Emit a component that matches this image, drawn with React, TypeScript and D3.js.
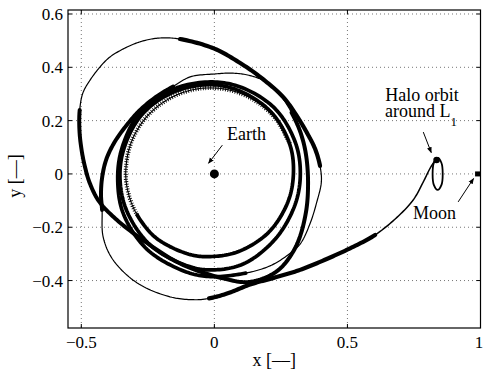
import React from 'react';
import * as d3 from 'd3';

type P = [number, number];

// ---------- data ----------
const xTicks = [-0.5, 0, 0.5, 1];
const yTicks = [-0.4, -0.2, 0, 0.2, 0.4, 0.6];
const xTickLabels = ['\u22120.5', '0', '0.5', '1'];
const yTickLabels = ['\u22120.4', '\u22120.2', '0', '0.2', '0.4', '0.6'];

const parkingRing: P[] = [
  [0.284, 0.114], [0.229, 0.209], [0.144, 0.28], [0.04, 0.318], [-0.07, 0.318],
  [-0.174, 0.28], [-0.259, 0.209], [-0.314, 0.114], [-0.333, 0.005], [-0.322, -0.077], [-0.29, -0.154],
];
const loop1: P[] = [
  [-0.29, -0.154], [-0.218, -0.241], [-0.096, -0.301], [-0.015, -0.31], [0.091, -0.291], [0.204, -0.219],
  [0.276, -0.106], [0.297, 0.0], [0.284, 0.109], [0.215, 0.23], [0.098, 0.31], [-0.015, 0.335],
  [-0.158, 0.305], [-0.275, 0.219], [-0.342, 0.088], [-0.354, -0.03],
];
const loop2: P[] = [
  [-0.354, -0.03], [-0.326, -0.146], [-0.24, -0.268], [-0.107, -0.343], [-0.015, -0.36], [0.108, -0.338],
  [0.229, -0.244], [0.303, -0.116], [0.323, 0.0], [0.305, 0.116], [0.229, 0.244], [0.103, 0.324],
  [-0.015, 0.345], [-0.162, 0.315], [-0.283, 0.225], [-0.349, 0.091], [-0.363, -0.031],
];
const loop3Thrust: P[] = [
  [-0.363, -0.031], [-0.341, -0.152], [-0.253, -0.283], [-0.113, -0.365], [-0.015, -0.385], [0.118, -0.372],
];
const loop3Coast: P[] = [
  [0.118, -0.372], [0.209, -0.345], [0.275, -0.305], [0.323, -0.262], [0.36, -0.185], [0.385, -0.105],
  [0.402, -0.03], [0.397, 0.03],
];
const outerThrustTop: P[] = [
  [0.397, 0.03], [0.378, 0.095], [0.348, 0.154], [0.305, 0.225], [0.258, 0.289], [0.172, 0.364],
  [0.097, 0.416], [0.0, 0.47], [-0.129, 0.506],
];
const outerCoastTop: P[] = [
  [-0.129, 0.506], [-0.204, 0.51], [-0.268, 0.499], [-0.328, 0.476], [-0.392, 0.439], [-0.43, 0.401],
  [-0.467, 0.352], [-0.494, 0.304], [-0.506, 0.24],
];
const outerThrustLeft: P[] = [
  [-0.506, 0.24], [-0.507, 0.165], [-0.5, 0.097], [-0.488, 0.034], [-0.468, -0.035], [-0.432, -0.105],
  [-0.36, -0.178], [-0.253, -0.259], [-0.129, -0.336], [0.033, -0.392], [0.134, -0.405], [0.235, -0.365],
  [0.305, -0.275], [0.343, -0.15], [0.352, -0.03], [0.343, 0.08], [0.322, 0.16], [0.29, 0.23],
];
const returnCoastTop: P[] = [
  [0.29, 0.23], [0.255, 0.285], [0.198, 0.343], [0.134, 0.369], [0.07, 0.378], [0.0, 0.375],
  [-0.091, 0.364], [-0.155, 0.328],
];
const lastThrustLeft: P[] = [
  [-0.155, 0.328], [-0.215, 0.292], [-0.279, 0.24], [-0.332, 0.18], [-0.377, 0.116], [-0.407, 0.052],
  [-0.422, -0.015], [-0.426, -0.079], [-0.422, -0.135],
];
const lastCoastBottom: P[] = [
  [-0.422, -0.135], [-0.418, -0.236], [-0.381, -0.322], [-0.29, -0.409], [-0.167, -0.461],
  [-0.073, -0.472], [-0.02, -0.467],
];
const transferThrust: P[] = [
  [-0.02, -0.467], [0.05, -0.448], [0.134, -0.415], [0.23, -0.388], [0.322, -0.36], [0.42, -0.32],
  [0.51, -0.279], [0.604, -0.229],
];
const transferCoast: P[] = [
  [0.604, -0.229], [0.687, -0.162], [0.747, -0.098], [0.783, -0.034], [0.811, 0.022], [0.832, 0.055],
];
const haloOrbit: P[] = [
  [0.839, 0.06], [0.853, 0.042], [0.858, 0.0], [0.853, -0.042], [0.839, -0.06], [0.825, -0.042],
  [0.82, 0.0], [0.825, 0.042],
];
const earthPos: P = [0, 0];
const moonPos: P = [0.989, 0];
const haloInsertion: P = [0.835, 0.052];

// ---------- helpers: smooth the whole trajectory as one centripetal Catmull-Rom spline ----------
function crSegment(p0: P, p1: P, p2: P, p3: P, n: number): P[] {
  const tj = (ti: number, a: P, b: P) => ti + Math.pow(Math.hypot(b[0] - a[0], b[1] - a[1]) || 1e-9, 0.5);
  const t0 = 0, t1 = tj(t0, p0, p1), t2 = tj(t1, p1, p2), t3 = tj(t2, p2, p3);
  const lerp = (a: P, b: P, ta: number, tb: number, t: number): P => {
    const u = (t - ta) / (tb - ta);
    return [a[0] + (b[0] - a[0]) * u, a[1] + (b[1] - a[1]) * u];
  };
  const out: P[] = [];
  for (let k = 0; k <= n; k++) {
    const t = t1 + ((t2 - t1) * k) / n;
    const A1 = lerp(p0, p1, t0, t1, t);
    const A2 = lerp(p1, p2, t1, t2, t);
    const A3 = lerp(p2, p3, t2, t3, t);
    const B1 = lerp(A1, A2, t0, t2, t);
    const B2 = lerp(A2, A3, t1, t3, t);
    out.push(lerp(B1, B2, t1, t2, t));
  }
  return out;
}

export default function App() {
  const W = 483, H = 374;
  const L = 68, R = 480.5, T = 10, B = 328;
  const x = d3.scaleLinear().domain([-0.55, 1.0]).range([L, R]);
  const y = d3.scaleLinear().domain([-0.578, 0.615]).range([B, T]);
  const lin = d3.line<P>().x(d => x(d[0])).y(d => y(d[1]));
  const closed = d3.line<P>().x(d => x(d[0])).y(d => y(d[1])).curve(d3.curveCatmullRomClosed.alpha(0.5));

  const thick = 3.7, thin = 1.2;
  const pieces: { d: P[]; w: number; hatch?: boolean }[] = [
    { d: parkingRing, w: 1, hatch: true },
    { d: loop1, w: thick },
    { d: loop2, w: thick },
    { d: loop3Thrust, w: thick },
    { d: loop3Coast, w: thin },
    { d: outerThrustTop, w: 4.2 },
    { d: outerCoastTop, w: thin },
    { d: outerThrustLeft, w: 4 },
    { d: returnCoastTop, w: thin },
    { d: lastThrustLeft, w: 4 },
    { d: lastCoastBottom, w: thin },
    { d: transferThrust, w: 4.2 },
    { d: transferCoast, w: 1.5 },
  ];

  // concatenate into one trajectory, remembering where each piece starts/ends
  const all: P[] = [];
  const ranges: [number, number][] = [];
  pieces.forEach((p, i) => {
    const start = i === 0 ? 0 : all.length - 1;
    p.d.forEach((pt, j) => {
      if (i > 0 && j === 0) return;
      all.push(pt);
    });
    ranges.push([start, all.length - 1]);
  });
  const N = all.length;
  const ext = (i: number): P => {
    if (i < 0) return [2 * all[0][0] - all[1][0], 2 * all[0][1] - all[1][1]];
    if (i >= N) return [2 * all[N - 1][0] - all[N - 2][0], 2 * all[N - 1][1] - all[N - 2][1]];
    return all[i];
  };
  const intervals: P[][] = [];
  for (let i = 0; i < N - 1; i++) intervals.push(crSegment(ext(i - 1), all[i], all[i + 1], ext(i + 2), 14));
  const dense = (a: number, b: number): P[] => {
    const out: P[] = [];
    for (let i = a; i < b; i++) {
      const s = intervals[i];
      s.forEach((pt, k) => {
        if (k === 0 && out.length) return;
        out.push(pt);
      });
    }
    return out;
  };

  const font = '"Liberation Serif", "Times New Roman", serif';
  const arrows: [P, P][] = [
    [[0.03, 0.108], [-0.022, 0.04]],
    [[0.785, 0.157], [0.815, 0.08]],
    [[0.916, -0.105], [0.974, -0.017]],
  ];

  return (
    <svg width={W} height={H} style={{ position: 'absolute', left: 0, top: 0, background: '#fff' }}>
      <defs>
        <clipPath id="plotClip">
          <rect x={L} y={T} width={R - L} height={B - T} />
        </clipPath>
        <marker id="ah" viewBox="0 0 10 10" refX="9" refY="5" markerWidth="6" markerHeight="6" orient="auto">
          <path d="M0,1 L10,5 L0,9 z" fill="#000" />
        </marker>
      </defs>
      <rect x={0} y={0} width={W} height={H} fill="#fff" />
      {/* grid */}
      <g stroke="#666" strokeWidth={0.9} strokeDasharray="1 3">
        {xTicks.map(t => (
          <line key={'gx' + t} x1={x(t)} x2={x(t)} y1={T} y2={B} />
        ))}
        {yTicks.map(t => (
          <line key={'gy' + t} x1={L} x2={R} y1={y(t)} y2={y(t)} />
        ))}
      </g>
      <g clipPath="url(#plotClip)" fill="none" stroke="#000" strokeLinecap="round" strokeLinejoin="round">
        {pieces.map((p, i) => {
          const d = lin(dense(ranges[i][0], ranges[i][1])) || '';
          return p.hatch ? (
            <g key={i}>
              <path d={d} strokeWidth={1.1} />
              <path d={d} strokeWidth={4.2} strokeDasharray="0.9 1.6" strokeLinecap="butt" />
            </g>
          ) : (
            <path key={i} d={d} strokeWidth={p.w} />
          );
        })}
        <path d={closed(haloOrbit) || ''} strokeWidth={1.8} />
        <circle cx={x(haloInsertion[0])} cy={y(haloInsertion[1])} r={3.3} fill="#000" stroke="none" />
        <circle cx={x(earthPos[0])} cy={y(earthPos[1])} r={4.5} fill="#000" stroke="none" />
        <rect x={x(moonPos[0]) - 2.5} y={y(moonPos[1]) - 2.5} width={5} height={5} fill="#000" stroke="none" />
      </g>
      {/* arrows */}
      <g stroke="#000" strokeWidth={1}>
        {arrows.map((a, i) => (
          <line key={i} x1={x(a[0][0])} y1={y(a[0][1])} x2={x(a[1][0])} y2={y(a[1][1])} markerEnd="url(#ah)" />
        ))}
      </g>
      {/* annotations */}
      <g fontFamily={font} fontSize={18} fill="#000">
        <text x={227} y={140}>Earth</text>
        <text x={422} y={101} textAnchor="middle">Halo orbit</text>
        <text x={385} y={117}>
          around L<tspan fontSize={13} dy={9}>1</tspan>
        </text>
        <text x={413} y={219}>Moon</text>
      </g>
      {/* axes box */}
      <rect x={L} y={T} width={R - L} height={B - T} fill="none" stroke="#000" strokeWidth={1.2} />
      <g stroke="#000" strokeWidth={1}>
        {xTicks.map(t => (
          <g key={'tx' + t}>
            <line x1={x(t)} x2={x(t)} y1={B} y2={B - 4} />
            <line x1={x(t)} x2={x(t)} y1={T} y2={T + 4} />
          </g>
        ))}
        {yTicks.map(t => (
          <g key={'ty' + t}>
            <line x1={L} x2={L + 4} y1={y(t)} y2={y(t)} />
            <line x1={R} x2={R - 4} y1={y(t)} y2={y(t)} />
          </g>
        ))}
      </g>
      <g fontFamily={font} fontSize={17} fill="#000">
        {xTicks.map((t, i) => (
          <text key={'lx' + t} x={Math.min(x(t), W - 4)} y={348} textAnchor="middle">{xTickLabels[i]}</text>
        ))}
        {yTicks.map((t, i) => (
          <text key={'ly' + t} x={63} y={y(t) + 6} textAnchor="end">{yTickLabels[i]}</text>
        ))}
      </g>
      <g fontFamily={font} fontSize={18} fill="#000">
        <text x={(L + R) / 2} y={366} textAnchor="middle">x [{'\u2013\u2013'}]</text>
        <text transform={`translate(21, 176) rotate(-90)`} textAnchor="middle">y [{'\u2014'}]</text>
      </g>
    </svg>
  );
}
